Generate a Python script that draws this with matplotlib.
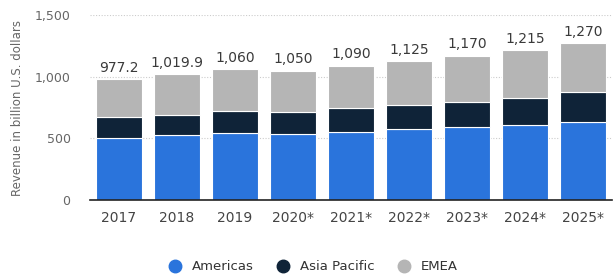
import matplotlib.pyplot as plt
import numpy as np

years = ["2017", "2018", "2019", "2020*", "2021*", "2022*", "2023*", "2024*", "2025*"]
americas = [500, 527, 541, 535, 551, 576, 589, 608, 633]
asia_pacific = [170, 162, 181, 176, 193, 194, 208, 222, 245]
totals = [977.2, 1019.9, 1060, 1050, 1090, 1125, 1170, 1215, 1270]
total_labels = ["977.2", "1,019.9", "1,060", "1,050", "1,090", "1,125", "1,170", "1,215", "1,270"]
emea = [t - a - p for t, a, p in zip(totals, americas, asia_pacific)]

colors = {"Americas": "#2a74dc", "Asia Pacific": "#0f2338", "EMEA": "#b5b5b5"}

fig = plt.figure(figsize=(6.14, 2.75), dpi=100)
ax = fig.add_axes([90 / 614, 75 / 275, 522 / 614, 185 / 275])

x = np.arange(len(years))
width = 0.78
bottom = np.zeros(len(years))
for name, vals in [("Americas", americas), ("Asia Pacific", asia_pacific), ("EMEA", emea)]:
    ax.bar(x, vals, width, bottom=bottom, color=colors[name], label=name,
           edgecolor="white", linewidth=0.8, zorder=3)
    bottom += np.array(vals)

# total value above each stack
for xi, t, lab in zip(x, totals, total_labels):
    ax.text(xi, t + 35, lab, ha="center", va="bottom", fontsize=10, color="#3a3a3a")

ax.set_xlim(-0.5, len(years) - 0.5)
ax.set_ylim(0, 1500)
ax.set_yticks([0, 500, 1000, 1500])
ax.set_yticklabels(["0", "500", "1,000", "1,500"])
ax.set_xticks(x)
ax.set_xticklabels(years)
ax.tick_params(axis="y", length=0, labelsize=9, labelcolor="#666666", pad=14)
ax.tick_params(axis="x", length=0, labelsize=10, labelcolor="#444444", pad=8)
ax.yaxis.grid(True, linestyle=(0, (1, 1.5)), color="#cccccc", linewidth=0.8, zorder=0)
for s in ["top", "right", "left"]:
    ax.spines[s].set_visible(False)
ax.spines["bottom"].set_color("#222222")
ax.spines["bottom"].set_linewidth(1.2)
ax.spines["bottom"].set_zorder(4)
ax.set_ylabel("Revenue in billion U.S. dollars", fontsize=8.5, color="#666666", labelpad=8)

handles = [plt.Line2D([], [], marker="o", linestyle="", markersize=9,
                      color=colors[n]) for n in colors]
fig.legend(handles, list(colors), loc="center", bbox_to_anchor=(0.505, 0.03),
           ncol=3, frameon=False, fontsize=9.5, handletextpad=0.3, columnspacing=1.2,
           labelcolor="#333333")

fig.savefig("out.png", dpi=100)
